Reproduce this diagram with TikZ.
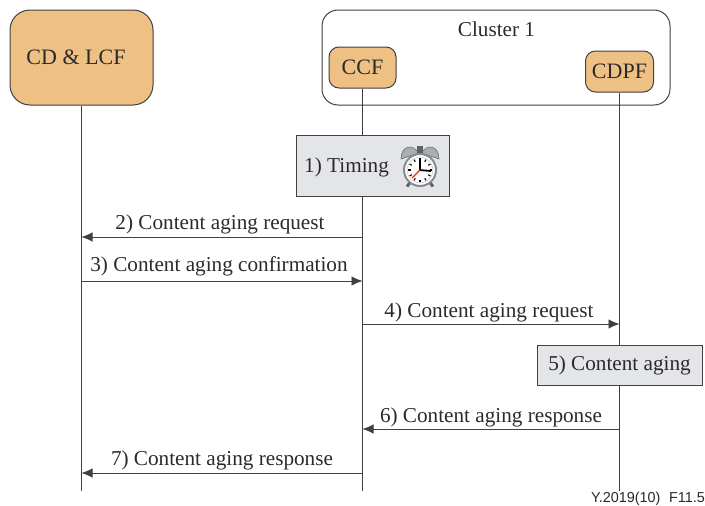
\documentclass[tikz,border=0pt]{standalone}
\usepackage{fontspec}
\setmainfont{Liberation Serif}
\newfontfamily\labelsans{Liberation Sans}
\usetikzlibrary{arrows.meta, positioning}

\definecolor{boxorange}{HTML}{EFC083}
\definecolor{stepgray}{HTML}{E4E5E9}
\definecolor{linedark}{HTML}{404040}
\definecolor{textdark}{HTML}{2A2A2A}
\definecolor{bellgray}{HTML}{A9AEB0}
\definecolor{footgray}{HTML}{5A6468}

\begin{document}
\begin{tikzpicture}[
  x=1pt, y=-1pt,
  % Base style for boxes
  basebox/.style={draw=linedark, line width=1pt, inner sep=0pt, text=textdark, font=\fontsize{21.2}{25}\selectfont},
  % Styles inheriting from basebox
  entitybox/.style={basebox, fill=boxorange, rounded corners=10pt, font=\fontsize{22}{26}\selectfont},
  stepbox/.style={basebox, fill=stepgray},
  clusterbox/.style={basebox, fill=white, rounded corners=16pt, minimum width=348pt, minimum height=95pt},
  msglabel/.style={inner sep=0pt, text=textdark, font=\fontsize{21.2}{25}\selectfont},
  lifeline/.style={draw=linedark, line width=1pt},
  msg/.style={draw=linedark, line width=0.9pt, -{Latex[length=11pt,width=9.5pt]}}
]
  \useasboundingbox (0,0) rectangle (705,506);

  % Entities
  \node[clusterbox] (cluster) at (496,57.5) {};
  \node[basebox, draw=none, anchor=base] (clustertitle) at (496.5,36) {Cluster 1};
  \node[entitybox, rounded corners=20pt, minimum width=143pt, minimum height=95pt] (cdlcf) at (81.5,57.5) {};
  \node[msglabel, anchor=base, font=\fontsize{22}{26}\selectfont] (cdlcflabel) at (76,64) {CD \& LCF};
  \node[entitybox, minimum width=67pt, minimum height=41pt] (ccf) at (362.5,67.5) {CCF};
  \node[entitybox, minimum width=68pt, minimum height=41pt] (cdpf) at (619.5,71.5) {CDPF};

  % Ends of the lifelines
  \coordinate (cdlcfend) at (cdlcf.south |- 0,491);
  \coordinate (ccfend) at (ccf.south |- 0,491);
  \coordinate (cdpfend) at (cdpf.south |- 0,491);
  \draw[lifeline] (cdlcf.south) -- (cdlcfend);
  \draw[lifeline] (ccf.south) -- (ccfend);
  \draw[lifeline] (cdpf.south) -- (cdpfend);

  % Steps
  \node[stepbox, minimum width=153pt, minimum height=61pt] (timing) at (372.5,165.5) {};
  \node[msglabel, anchor=base west] (timinglabel) at (304,172) {1) Timing};
  \node[stepbox, minimum width=165pt, minimum height=40pt] (aging) at (619.5,365) {5) Content aging};

  % Alarm clock
  \begin{scope}[shift={(420,170)}]
    \draw[footgray, line width=3pt] (-8,10) -- (-13,16.5);
    \draw[footgray, line width=3pt] (8,10) -- (13,16.5);
    \fill[bellgray, draw=footgray, line width=0.5pt] (-19,-11) .. controls (-19,-24) and (-8,-27) .. (-1,-17) -- cycle;
    \fill[bellgray, draw=footgray, line width=0.5pt] (19,-11) .. controls (19,-24) and (8,-27) .. (1,-17) -- cycle;
    \fill[footgray] (-3,-24) rectangle (3,-15);
    \draw[bellgray!80!black, fill=white, line width=2pt] (0,0) circle (16pt);
    \draw[black!25, line width=0.5pt] (0,0) circle (13pt);
    \foreach \a in {0,30,...,330} {
      \draw[black, line width=1.1pt] (\a:9.5pt) -- (\a:12pt);
    }
    \draw[black, line width=1.8pt] (0,1) -- (0,-10);
    \draw[black, line width=1.8pt] (-1,0) -- (11,1);
    \draw[red!70!orange, line width=1.3pt] (0,0) -- (-8,8);
  \end{scope}

  % Messages
  \coordinate (cdlcf2) at (cdlcf.south |- 0,237);
  \coordinate (ccf2) at (ccf.south |- 0,237);
  \coordinate (cdlcf3) at (cdlcf.south |- 0,281);
  \coordinate (ccf3) at (ccf.south |- 0,281);
  \coordinate (ccf4) at (ccf.south |- 0,324);
  \coordinate (cdpf4) at (cdpf.south |- 0,324);
  \coordinate (cdpf6) at (cdpf.south |- 0,429);
  \coordinate (ccf6) at (ccf.south |- 0,429);
  \coordinate (ccf7) at (ccf.south |- 0,473);
  \coordinate (cdlcf7) at (cdlcf.south |- 0,473);
  \draw[msg] (ccf2) -- (cdlcf2);
  \draw[msg] (cdlcf3) -- (ccf3);
  \draw[msg] (ccf4) -- (cdpf4);
  \draw[msg] (cdpf6) -- (ccf6);
  \draw[msg] (ccf7) -- (cdlcf7);

  % Message labels
  \node[msglabel, anchor=base] (msgtwo) at (220,229) {2) Content aging request};
  \node[msglabel, anchor=base] (msgthree) at (219,271) {3) Content aging confirmation};
  \node[msglabel, anchor=base] (msgfour) at (489,317) {4) Content aging request};
  \node[msglabel, anchor=base] (msgsix) at (491,422) {6) Content aging response};
  \node[msglabel, anchor=base] (msgseven) at (222,465) {7) Content aging response};

  % Figure reference
  \node[inner sep=0pt, anchor=base east, text=textdark, font=\labelsans\fontsize{14.4}{17}\selectfont] (figref) at (705,502.5) {Y.2019(10)\hspace{0.6em}F11.5};
\end{tikzpicture}
\end{document}
